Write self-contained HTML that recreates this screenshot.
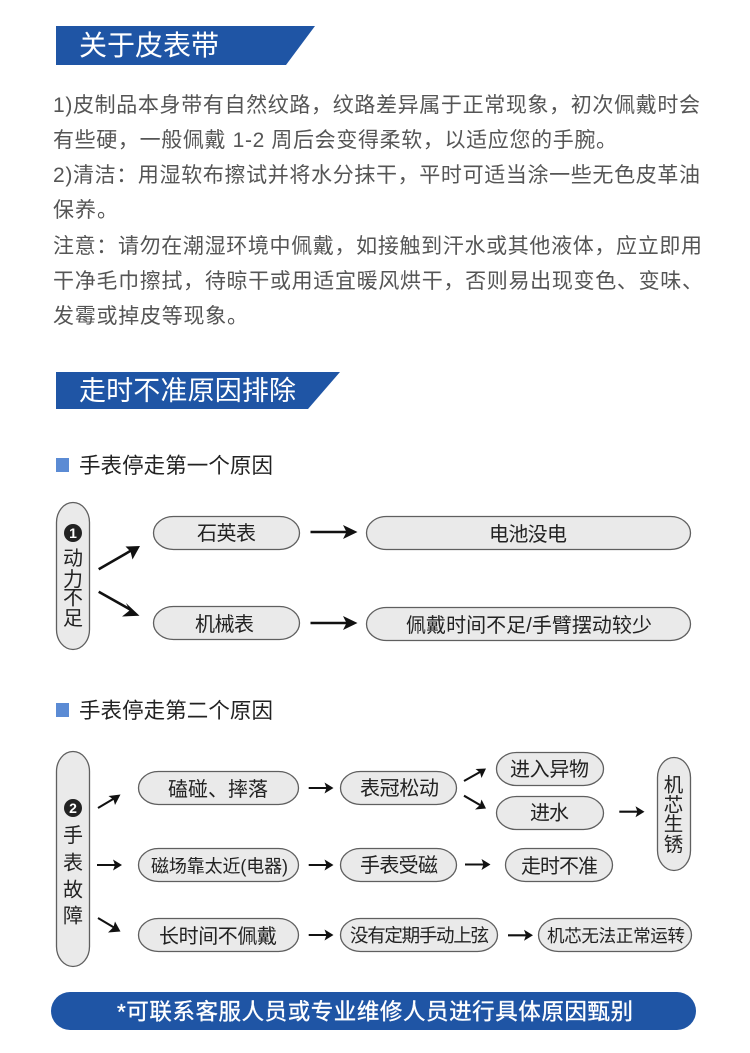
<!DOCTYPE html>
<html lang="zh">
<head>
<meta charset="utf-8">
<title>关于皮表带</title>
<style>
html,body{margin:0;padding:0;background:#fff;width:750px;height:1053px;overflow:hidden}
svg{display:block}
text{font-family:"Liberation Sans","Noto Sans CJK SC",sans-serif}
.b{font-size:21px;fill:#555}
.s{font-size:21.5px;fill:#222}
.p{fill:#eaeaea;stroke:#5f5f5f;stroke-width:1.3}
.t{font-size:20px;fill:#222}
.l{stroke:#111;stroke-width:2.6;fill:none}
.m{stroke:#111;stroke-width:2.1;fill:none}
.a{fill:#111}
</style>
</head>
<body>
<svg width="750" height="1053" viewBox="0 0 750 1053" xmlns="http://www.w3.org/2000/svg">
<rect width="750" height="1053" fill="#fff"/>

<polygon points="56,26 315,26 286,65 56,65" fill="#1f55a5"/>
<text x="79" y="55" font-size="28" fill="#fff" textLength="140">关于皮表带</text>

<text class="b" x="53" y="112" textLength="647">1)皮制品本身带有自然纹路，纹路差异属于正常现象，初次佩戴时会</text>
<text class="b" x="53" y="147" textLength="564">有些硬，一般佩戴 1-2 周后会变得柔软，以适应您的手腕。</text>
<text class="b" x="53" y="182" textLength="647">2)清洁：用湿软布擦试并将水分抹干，平时可适当涂一些无色皮革油</text>
<text class="b" x="53" y="217" textLength="65">保养。</text>
<text class="b" x="53" y="253" textLength="649">注意：请勿在潮湿环境中佩戴，如接触到汗水或其他液体，应立即用</text>
<text class="b" x="53" y="288" textLength="650">干净毛巾擦拭，待晾干或用适宜暖风烘干，否则易出现变色、变味、</text>
<text class="b" x="53" y="323" textLength="195">发霉或掉皮等现象。</text>

<polygon points="56,372 340,372 308,409 56,409" fill="#1f55a5"/>
<text x="79" y="400" font-size="27" fill="#fff" textLength="217">走时不准原因排除</text>

<rect x="56" y="458" width="13" height="14" fill="#5b8bd4"/>
<text class="s" x="79" y="473" textLength="194">手表停走第一个原因</text>

<!-- diagram 1 -->
<rect class="p" x="56.5" y="502.5" width="33" height="147" rx="16.5" ry="20"/>
<circle cx="73" cy="533" r="9" fill="#222"/>
<text x="73" y="538" font-size="14" font-weight="700" fill="#fff" text-anchor="middle">1</text>
<text class="t" x="73" y="565" text-anchor="middle">动</text>
<text class="t" x="73" y="586" text-anchor="middle">力</text>
<text class="t" x="73" y="604.5" text-anchor="middle">不</text>
<text class="t" x="73" y="625" text-anchor="middle">足</text>

<line class="l" x1="98.7" y1="569.3" x2="132" y2="550"/>
<polygon class="a" points="140,546 125.5,546.5 130.5,551.5 132.5,559.5"/>
<line class="l" x1="98.7" y1="591.7" x2="131" y2="610"/>
<polygon class="a" points="139.5,615.7 126,603 129.5,610.5 122,616.5"/>

<rect class="p" x="153.5" y="516.5" width="146" height="33" rx="20" ry="16.5"/>
<text class="t" x="197" y="540" textLength="59">石英表</text>
<rect class="p" x="153.5" y="606.5" width="146" height="33" rx="20" ry="16.5"/>
<text class="t" x="195" y="631" textLength="59">机械表</text>

<line class="l" x1="310.5" y1="532" x2="348" y2="532"/>
<polygon class="a" points="357.5,532 343,525 346.5,532 343,539"/>
<line class="l" x1="310.5" y1="623" x2="348" y2="623"/>
<polygon class="a" points="357.5,623 343,616 346.5,623 343,630"/>

<rect class="p" x="366.5" y="516.5" width="324" height="33" rx="20" ry="16.5"/>
<text class="t" x="489" y="541" textLength="78">电池没电</text>
<rect class="p" x="366.5" y="607.5" width="324" height="33" rx="20" ry="16.5"/>
<text class="t" x="406" y="632" textLength="246">佩戴时间不足/手臂摆动较少</text>

<rect x="56" y="703" width="13" height="14" fill="#5b8bd4"/>
<text class="s" x="79" y="718" textLength="194">手表停走第二个原因</text>

<!-- diagram 2 -->
<rect class="p" x="56.5" y="751.5" width="33" height="215" rx="16.5" ry="20"/>
<circle cx="73" cy="808" r="9" fill="#222"/>
<text x="73" y="813" font-size="14" font-weight="700" fill="#fff" text-anchor="middle">2</text>
<text class="t" x="73" y="842" text-anchor="middle">手</text>
<text class="t" x="73" y="869.5" text-anchor="middle">表</text>
<text class="t" x="73" y="896.5" text-anchor="middle">故</text>
<text class="t" x="73" y="922.5" text-anchor="middle">障</text>

<line class="m" x1="98" y1="808" x2="114" y2="798.5"/>
<polygon class="a" points="120.5,794.5 108.5,796 113.5,799.5 115,805"/>
<line class="m" x1="97" y1="865" x2="116" y2="865"/>
<polygon class="a" points="122,865 113,859.5 115,865 113,870.5"/>
<line class="m" x1="98" y1="918" x2="114" y2="927.5"/>
<polygon class="a" points="120.5,931.5 115,921.5 113.5,927 108,932.5"/>

<rect class="p" x="138.5" y="771.5" width="160" height="33" rx="20" ry="16.5"/>
<text class="t" x="168" y="796" textLength="100">磕碰、摔落</text>
<rect class="p" x="138.5" y="848.5" width="160" height="33" rx="20" ry="16.5"/>
<text x="151" y="872.5" font-size="18" fill="#222" textLength="137">磁场靠太近(电器)</text>
<rect class="p" x="138.5" y="918.5" width="160" height="33" rx="20" ry="16.5"/>
<text class="t" x="159" y="943" textLength="118">长时间不佩戴</text>

<line class="m" x1="308.7" y1="788" x2="327" y2="788"/>
<polygon class="a" points="333.5,788 324.5,782.5 326.5,788 324.5,793.5"/>
<line class="m" x1="308.7" y1="865" x2="327" y2="865"/>
<polygon class="a" points="333.5,865 324.5,859.5 326.5,865 324.5,870.5"/>
<line class="m" x1="308.7" y1="935" x2="327" y2="935"/>
<polygon class="a" points="333.5,935 324.5,929.5 326.5,935 324.5,940.5"/>

<rect class="p" x="340.5" y="771.5" width="116" height="33" rx="20" ry="16.5"/>
<text class="t" x="360" y="795" textLength="79">表冠松动</text>
<rect class="p" x="340.5" y="848.5" width="116" height="33" rx="20" ry="16.5"/>
<text class="t" x="360" y="872" textLength="78">手表受磁</text>
<rect class="p" x="340.5" y="918.5" width="157" height="33" rx="20" ry="16.5"/>
<text x="350" y="942" font-size="18.5" fill="#222" textLength="139">没有定期手动上弦</text>

<line class="m" x1="464" y1="781" x2="480" y2="772"/>
<polygon class="a" points="486,768.5 475.5,769 480,772.5 481.5,778"/>
<line class="m" x1="464" y1="795.7" x2="480" y2="805"/>
<polygon class="a" points="486,808.5 481.5,799.5 480,805 475,809.5"/>
<line class="m" x1="465" y1="864.5" x2="484" y2="864.5"/>
<polygon class="a" points="490.5,864.5 481.5,859 483.5,864.5 481.5,870"/>
<line class="m" x1="508" y1="935.3" x2="527" y2="935.3"/>
<polygon class="a" points="533,935.3 524,929.8 526,935.3 524,940.8"/>
<line class="m" x1="619.3" y1="811.7" x2="638" y2="811.7"/>
<polygon class="a" points="644.5,811.7 635.5,806.2 637.5,811.7 635.5,817.2"/>

<rect class="p" x="496.5" y="752.5" width="107" height="33" rx="20" ry="16.5"/>
<text class="t" x="510" y="776" textLength="79">进入异物</text>
<rect class="p" x="496.5" y="796.5" width="107" height="33" rx="20" ry="16.5"/>
<text class="t" x="530" y="819.5" textLength="39">进水</text>
<rect class="p" x="505.5" y="848.5" width="107" height="33" rx="20" ry="16.5"/>
<text class="t" x="521" y="873" textLength="77">走时不准</text>
<rect class="p" x="538.5" y="918.5" width="153" height="33" rx="20" ry="16.5"/>
<text x="547" y="942" font-size="17.5" fill="#222" textLength="138">机芯无法正常运转</text>

<rect class="p" x="657.5" y="757.5" width="33" height="113" rx="16.5" ry="20"/>
<text x="673.5" y="791.5" font-size="19.5" fill="#222" text-anchor="middle">机</text>
<text x="673.5" y="811.5" font-size="19.5" fill="#222" text-anchor="middle">芯</text>
<text x="673.5" y="830.5" font-size="19.5" fill="#222" text-anchor="middle">生</text>
<text x="673.5" y="851" font-size="19.5" fill="#222" text-anchor="middle">锈</text>

<rect x="51" y="992" width="645" height="38" rx="19" fill="#1f55a5"/>
<text x="117" y="1019.5" font-size="22.5" fill="#fff" stroke="#fff" stroke-width="0.35" textLength="516">*可联系客服人员或专业维修人员进行具体原因甄别</text>
</svg>
</body>
</html>
